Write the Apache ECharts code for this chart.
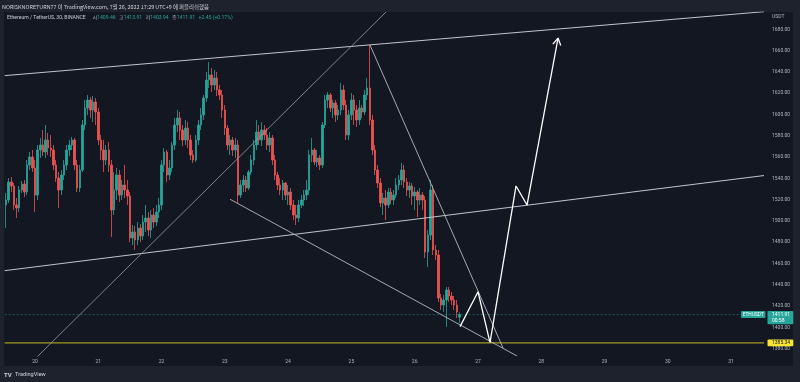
<!DOCTYPE html>
<html><head><meta charset="utf-8">
<script src="https://cdn.jsdelivr.net/npm/echarts@6/dist/echarts.min.js"></script>
<style>html,body{margin:0;padding:0;background:#1e222d;}#c{width:800px;height:382px;}</style>
</head><body><div id="c"></div>
<script>
// ---- data ----
const firstSlot = { day: 19, hour: 13 };   // first hourly candle: Jul 19 13:00
const slotCount = 288;                      // hourly slots visible on the time scale
const dayLabels = ['20','21','22','23','24','25','26','27','28','29','30','31'];
const priceTicks = { min: 1373.0, max: 1696.3, step: 20 };
// [open, close, low, high]
const ohlc = [
[1514.9,1519.6,1493.3,1526.2],[1519.6,1536.5,1516.8,1540.3],[1536.5,1532.8,1527.1,1541.2],[1532.8,1514.9,1510.2,1535.6],
[1514.9,1512.1,1502.7,1521.5],[1512.1,1529.0,1508.3,1532.8],[1529.0,1534.6,1526.2,1537.5],[1534.6,1527.1,1522.4,1538.4],
[1527.1,1552.5,1524.3,1557.2],[1552.5,1560.0,1547.8,1564.7],[1560.0,1549.7,1545.9,1566.6],[1549.7,1524.3,1508.3,1557.2],
[1524.3,1566.6,1519.6,1571.3],[1566.6,1571.3,1559.1,1577.9],[1571.3,1564.7,1560.9,1585.4],[1564.7,1576.0,1559.1,1590.1],
[1576.0,1568.5,1561.9,1582.6],[1568.5,1566.6,1560.0,1580.7],[1566.6,1552.5,1547.8,1571.3],[1552.5,1540.3,1536.5,1557.2],
[1540.3,1529.0,1512.1,1545.9],[1529.0,1543.1,1524.3,1547.8],[1543.1,1552.5,1538.4,1557.2],[1552.5,1566.6,1547.8,1571.3],
[1566.6,1571.3,1560.9,1576.0],[1571.3,1576.0,1566.6,1578.8],[1576.0,1552.5,1547.8,1577.9],[1552.5,1530.9,1527.1,1557.2],
[1530.9,1547.8,1527.1,1552.5],[1547.8,1590.1,1545.9,1594.8],[1590.1,1606.1,1585.4,1613.6],[1606.1,1613.6,1599.5,1618.3],
[1613.6,1604.2,1596.7,1616.4],[1604.2,1611.7,1592.9,1617.3],[1611.7,1602.3,1590.1,1615.5],[1602.3,1576.0,1571.3,1606.1],
[1576.0,1566.6,1557.2,1580.7],[1566.6,1557.2,1545.9,1576.0],[1557.2,1566.6,1552.5,1571.3],[1566.6,1552.5,1545.9,1574.1],
[1552.5,1510.2,1484.8,1557.2],[1510.2,1529.0,1505.5,1545.9],[1529.0,1543.1,1519.6,1549.7],[1543.1,1524.3,1517.7,1547.8],
[1524.3,1533.7,1519.6,1538.4],[1533.7,1529.0,1521.5,1552.5],[1529.0,1523.4,1514.9,1538.4],[1523.4,1483.9,1480.1,1527.1],
[1483.9,1489.5,1477.3,1496.1],[1489.5,1482.0,1472.6,1495.2],[1482.0,1493.3,1477.3,1498.9],[1493.3,1485.8,1480.1,1497.0],
[1485.8,1498.9,1482.0,1505.5],[1498.9,1502.7,1489.5,1514.9],[1502.7,1491.4,1485.8,1508.3],[1491.4,1505.5,1483.9,1510.2],
[1505.5,1498.9,1493.3,1512.1],[1498.9,1508.3,1495.2,1514.9],[1508.3,1514.9,1502.7,1521.5],[1514.9,1552.5,1510.2,1557.2],
[1552.5,1564.7,1545.9,1568.5],[1564.7,1543.1,1536.5,1566.6],[1543.1,1549.7,1538.4,1557.2],[1549.7,1571.3,1545.9,1574.1],
[1571.3,1590.1,1566.6,1596.7],[1590.1,1596.7,1583.5,1604.2],[1596.7,1585.4,1576.0,1602.3],[1585.4,1576.0,1570.3,1590.1],
[1576.0,1587.2,1571.3,1594.8],[1587.2,1576.0,1568.5,1592.9],[1576.0,1561.9,1557.2,1580.7],[1561.9,1557.2,1554.4,1566.6],
[1557.2,1576.0,1555.3,1580.7],[1576.0,1590.1,1571.3,1594.8],[1590.1,1599.5,1585.4,1606.1],[1599.5,1615.5,1594.8,1618.3],
[1615.5,1632.4,1611.7,1639.9],[1632.4,1637.1,1624.9,1649.3],[1637.1,1627.7,1621.1,1643.6],[1627.7,1634.2,1623.0,1641.8],
[1634.2,1623.0,1617.3,1639.9],[1623.0,1618.3,1613.6,1627.7],[1618.3,1604.2,1596.7,1623.0],[1604.2,1587.2,1580.7,1608.9],
[1587.2,1571.3,1566.6,1590.1],[1571.3,1576.0,1561.9,1580.7],[1576.0,1566.6,1560.9,1578.8],[1566.6,1571.3,1559.1,1577.9],
[1571.3,1524.3,1516.8,1576.0],[1524.3,1533.7,1521.5,1538.4],[1533.7,1538.4,1527.1,1543.1],[1538.4,1530.9,1527.1,1542.2],
[1530.9,1545.9,1529.0,1547.8],[1545.9,1557.2,1543.1,1561.9],[1557.2,1571.3,1552.5,1576.0],[1571.3,1583.5,1566.6,1594.8],
[1583.5,1576.0,1571.3,1590.1],[1576.0,1585.4,1570.3,1592.9],[1585.4,1580.7,1576.0,1590.1],[1580.7,1571.3,1566.6,1587.2],
[1571.3,1577.9,1564.7,1583.5],[1577.9,1557.2,1552.5,1580.7],[1557.2,1543.1,1538.4,1561.9],[1543.1,1533.7,1529.0,1545.9],
[1533.7,1529.0,1524.3,1540.3],[1529.0,1535.6,1519.6,1538.4],[1535.6,1524.3,1519.6,1536.5],[1524.3,1527.1,1514.9,1533.7],
[1527.1,1514.9,1510.2,1530.9],[1514.9,1505.5,1500.8,1519.6],[1505.5,1502.7,1496.1,1514.9],[1502.7,1514.9,1498.9,1519.6],
[1514.9,1519.6,1512.1,1524.3],[1519.6,1524.3,1514.0,1529.0],[1524.3,1529.0,1519.6,1538.4],[1529.0,1561.9,1524.3,1566.6],
[1561.9,1566.6,1555.3,1577.9],[1566.6,1555.3,1552.5,1568.5],[1555.3,1559.1,1550.6,1566.6],[1559.1,1552.5,1547.8,1561.9],
[1552.5,1590.1,1549.7,1592.9],[1590.1,1613.6,1587.2,1618.3],[1613.6,1618.3,1606.1,1621.1],[1618.3,1606.1,1602.3,1620.1],
[1606.1,1610.8,1596.7,1613.6],[1610.8,1599.5,1592.9,1613.6],[1599.5,1604.2,1594.8,1608.9],[1604.2,1623.0,1599.5,1629.6],
[1623.0,1608.9,1604.2,1627.7],[1608.9,1580.7,1576.0,1613.6],[1580.7,1599.5,1576.0,1604.2],[1599.5,1613.6,1594.8,1620.1],
[1613.6,1604.2,1590.1,1618.3],[1604.2,1594.8,1588.2,1608.9],[1594.8,1606.1,1590.1,1613.6],[1606.1,1602.3,1596.7,1608.9],
[1602.3,1618.3,1599.5,1623.0],[1618.3,1624.9,1613.6,1634.2],[1624.9,1594.8,1590.1,1665.2],[1594.8,1566.6,1561.9,1599.5],
[1566.6,1547.8,1543.1,1571.3],[1547.8,1535.6,1530.9,1552.5],[1535.6,1516.8,1513.0,1540.3],[1516.8,1521.5,1505.5,1526.2],
[1521.5,1514.9,1500.8,1529.0],[1514.9,1527.1,1512.1,1530.9],[1527.1,1519.6,1515.9,1530.9],[1519.6,1524.3,1514.9,1529.0],
[1524.3,1533.7,1521.5,1540.3],[1533.7,1538.4,1529.0,1543.1],[1538.4,1547.8,1533.7,1554.4],[1547.8,1536.5,1530.9,1552.5],
[1536.5,1529.0,1523.4,1540.3],[1529.0,1532.8,1521.5,1536.5],[1532.8,1523.4,1514.9,1535.6],[1523.4,1527.1,1510.2,1531.8],
[1527.1,1519.6,1503.6,1529.0],[1519.6,1524.3,1514.9,1530.9],[1524.3,1519.6,1510.2,1527.1],[1519.6,1470.7,1465.1,1523.4],
[1470.7,1486.7,1456.7,1491.4],[1486.7,1529.0,1482.0,1538.4],[1529.0,1472.6,1467.9,1533.7],[1472.6,1467.9,1463.2,1477.3],
[1467.9,1427.5,1423.8,1472.6],[1427.5,1420.9,1416.3,1431.3],[1420.9,1425.6,1414.4,1430.3],[1425.6,1435.0,1400.3,1437.9],
[1435.0,1429.4,1423.8,1437.9],[1429.4,1425.6,1420.9,1433.1],[1425.6,1420.9,1416.3,1429.4],[1420.9,1414.4,1408.7,1425.6],
[1409.46,1411.91,1403.94,1413.91]
];
const lastBar = { o: '1409.46', h: '1413.91', l: '1403.94', c: '1411.91', chg: '+2.45 (+0.17%)' };
const lastPrice = 1411.91;
const countdown = '00:58';
const alertPrice = 1385.34;
// drawings: [slot index, price]
const upperChannel = [[-0.5,1636.5],[287.5,1696.6]];
const middleChannel = [[-0.5,1453.2],[287.5,1542.6]];
const risingLine = [[11.76,1372.1],[144.14,1696.3]];
const wedgeLower = [[84.97,1520.3],[193.83,1373.0]];
const wedgeUpper = [[138.07,1665.2],[188.52,1380.5]];
const projection = [[172.21,1400.6],[179.03,1433.4],[183.58,1385.5],[193.45,1532.8],[197.62,1514.9],[209.38,1671.8]];
const arrowHead = [[207.41,1666.1],[209.38,1671.8],[210.40,1664.8]];

// ---- build ----
const categories = [];
for (let k = 0; k < slotCount; k++) {
  const t = firstSlot.hour + k;
  const d = firstSlot.day + Math.floor(t / 24);
  const h = t % 24;
  categories.push(d + ' ' + (h < 10 ? '0' + h : h) + ':00');
}
const UP = '#26a69a', DOWN = '#ef5350';
const txt = '#b2b5be';
const chart = echarts.init(document.getElementById('c'), null, { renderer: 'canvas' });

function drawLine(data, color, width, z, type) {
  return { type: 'line', xAxisIndex: 1, yAxisIndex: 0, data: data, symbol: 'none', silent: true,
    animation: false, z: z || 5, itemStyle: { color: color },
    lineStyle: { color: color, width: width, type: type || 'solid' } };
}

chart.setOption({
  backgroundColor: 'transparent',
  animation: false,
  grid: { left: 4.68, right: 36, top: 12, bottom: 26 },
  xAxis: [
    { type: 'category', data: categories, boundaryGap: true,
      axisLine: { show: false }, axisTick: { show: false }, splitLine: { show: false },
      axisLabel: { color: txt, fontSize: 5, margin: 3, fontFamily: 'Roboto',
        interval: function (i, v) { return /00:00$/.test(v) && dayLabels.indexOf(v.split(' ')[0]) >= 0; },
        formatter: function (v) { return v.split(' ')[0]; } } },
    { type: 'value', min: -0.5, max: slotCount - 0.5, show: false }
  ],
  yAxis: { type: 'value', position: 'right', min: priceTicks.min, max: priceTicks.max,
    splitNumber: Math.round((priceTicks.max - priceTicks.min) / priceTicks.step),
    axisLine: { show: false }, axisTick: { show: false }, splitLine: { show: false },
    axisLabel: { showMinLabel: false, showMaxLabel: false, color: txt, fontSize: 5, margin: 8,
      fontFamily: 'Roboto', formatter: function (v) { return v.toFixed(2); } } },
  series: [
    { type: 'candlestick', data: ohlc, barWidth: 2, z: 3,
      itemStyle: { color: UP, color0: DOWN, borderColor: UP, borderColor0: DOWN, borderWidth: 0.8 } },
    drawLine([[-0.5, alertPrice], [slotCount - 0.5, alertPrice]], '#a59a1f', 1.2, 4),
    drawLine([[-0.5, lastPrice], [slotCount - 0.5, lastPrice]], 'rgba(38,166,154,0.6)', 0.8, 4, [2, 2]),
    drawLine(upperChannel, '#c3c5cb', 1),
    drawLine(middleChannel, '#c3c5cb', 1),
    drawLine(risingLine, '#9a9da5', 0.8),
    drawLine(wedgeLower, '#b8bac0', 0.9),
    drawLine(wedgeUpper, '#b8bac0', 0.9),
    drawLine(projection, '#ffffff', 1.3, 6),
    drawLine(arrowHead, '#ffffff', 1.3, 6)
  ]
});

const yCur = chart.convertToPixel({ yAxisIndex: 0 }, lastPrice);
const yAlert = chart.convertToPixel({ yAxisIndex: 0 }, alertPrice);
const F = 'Roboto, "Noto Sans", sans-serif';
chart.setOption({
  graphic: [
    { type: 'rect', silent: true, z: -10, shape: { x: 4, y: 12, width: 789, height: 354 }, style: { fill: '#131722' } },
    { type: 'text', silent: true, x: 2, y: 6.5, style: { text: 'NORISKNORETURN77 이 TradingView.com, 7월 26, 2022 17:29 UTC+9 에 퍼블리쉬했음',
      fill: '#d1d4dc', font: '5.4px "Noto Sans CJK KR", sans-serif', verticalAlign: 'middle', align: 'left' } },
    { type: 'text', silent: true, x: 7, y: 17.5, z: 20, style: {
      text: '{n|Ethereum / TetherUS, 30, BINANCE}  {k|시}{v|' + lastBar.o + '} {k|고}{v|' + lastBar.h + '} {k|저}{v|' + lastBar.l + '} {k|종}{v|' + lastBar.c + '} {v|' + lastBar.chg + '}',
      verticalAlign: 'middle', align: 'left',
      rich: { n: { fill: '#c9ccd4', fontSize: 5.1, fontFamily: F },
              k: { fill: '#b2b5be', fontSize: 5.1, fontFamily: '"Noto Sans CJK KR", sans-serif' },
              v: { fill: '#26a69a', fontSize: 5.1, fontFamily: F } } } },
    { type: 'text', silent: true, x: 772, y: 17, style: { text: 'USDT', fill: txt, font: '5px ' + F, verticalAlign: 'middle', align: 'left' } },
    // ETHUSDT tag
    { type: 'rect', silent: true, z: 30, shape: { x: 741, y: yCur - 3.6, width: 24.4, height: 7, r: 1 }, style: { fill: '#26a69a' } },
    { type: 'text', silent: true, z: 31, x: 753.2, y: yCur, style: { text: 'ETHUSDT', fill: '#ffffff', font: '4.8px ' + F, align: 'center', verticalAlign: 'middle' } },
    // last price tag
    { type: 'rect', silent: true, z: 30, shape: { x: 767.5, y: yCur - 3.6, width: 25.8, height: 13.3, r: 1 }, style: { fill: '#26a69a' } },
    { type: 'text', silent: true, z: 31, x: 772, y: yCur, style: { text: lastPrice.toFixed(2), fill: '#ffffff', font: '5px ' + F, align: 'left', verticalAlign: 'middle' } },
    { type: 'text', silent: true, z: 31, x: 772, y: yCur + 6, style: { text: countdown, fill: '#ffffff', font: '5px ' + F, align: 'left', verticalAlign: 'middle' } },
    // alert tag
    { type: 'rect', silent: true, z: 30, shape: { x: 767.5, y: yAlert - 3.4, width: 25.8, height: 6.8, r: 1 }, style: { fill: '#f9e631' } },
    { type: 'text', silent: true, z: 31, x: 772, y: yAlert, style: { text: alertPrice.toFixed(2), fill: '#131722', font: '5px ' + F, align: 'left', verticalAlign: 'middle' } },
    // logo
    { type: 'text', silent: true, x: 4, y: 375, style: { text: '{b|TV} {t|TradingView}', verticalAlign: 'middle', align: 'left',
      rich: { b: { fill: '#d1d4dc', fontSize: 6, fontWeight: 'bold', fontFamily: F }, t: { fill: '#d1d4dc', fontSize: 5.6, fontFamily: F } } } }
  ]
});
</script></body></html>
